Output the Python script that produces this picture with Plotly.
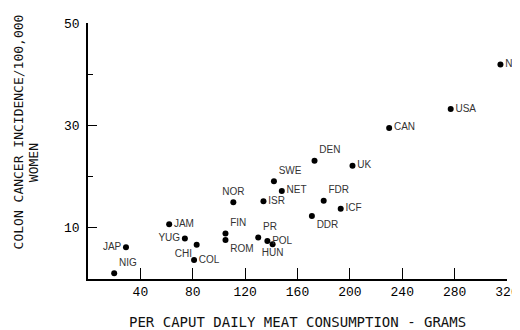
import plotly.graph_objects as go

countries = ["NZ", "USA", "CAN", "DEN", "UK", "SWE", "NET", "NOR", "ISR", "FDR", "ICF",
             "DDR", "FIN", "ROM", "PR", "POL", "HUN", "JAM", "YUG", "CHI", "COL", "JAP", "NIG"]
meat_grams = [315, 277, 230, 173, 202, 142, 148, 111, 134, 180, 193,
              171, 105, 105, 130, 137, 141, 62, 74, 83, 81, 29, 20]
incidence = [41.9, 33.2, 29.5, 23.1, 22.1, 19.1, 17.2, 15.0, 15.2, 15.3, 13.7,
             12.3, 8.9, 7.6, 8.1, 7.4, 6.8, 10.7, 7.9, 6.7, 3.7, 6.2, 1.1]

x_ticks = [40, 80, 120, 160, 200, 240, 280, 320]
y_ticks = [10, 30, 50]
y_minor = [20, 40]

label_pos = ["middle right", "middle right", "middle right", "top right", "middle right",
             "top right", "middle right", "top center", "middle right", "top right",
             "middle right", "bottom right", "top right", "bottom right", "top right",
             "middle right", "bottom center", "middle right", "middle left", "bottom left",
             "middle right", "middle left", "top right"]

fig = go.Figure()
fig.add_trace(go.Scatter(
    x=meat_grams, y=incidence, text=countries, mode="markers+text",
    textposition=label_pos,
    marker=dict(color="black", size=6),
    textfont=dict(family="Liberation Sans", size=10, color="#333333"),
    cliponaxis=False, showlegend=False,
))

tickfont = dict(family="Liberation Mono", size=13, color="black")
title_font = dict(family="DejaVu Sans Mono", size=13, color="#111111")
fig.update_layout(
    width=512, height=322,
    margin=dict(l=80, r=13, t=15, b=51, autoexpand=False),
    plot_bgcolor="white", paper_bgcolor="white",
    xaxis=dict(range=[0, 320], tickvals=x_ticks, ticks="inside", ticklen=11,
               tickcolor="black", tickwidth=1, showline=True, linecolor="black",
               linewidth=1.5, showgrid=False, zeroline=False, tickfont=tickfont,
               automargin=False),
    yaxis=dict(range=[0, 50], tickvals=y_ticks, ticks="inside", ticklen=9,
               tickcolor="black", tickwidth=1, showline=True, linecolor="black",
               linewidth=1.5, showgrid=False, zeroline=False, tickfont=tickfont,
               ticklabelstandoff=4, automargin=False,
               minor=dict(tickvals=y_minor, ticks="inside", ticklen=5,
                          tickcolor="black", showgrid=False)),
    annotations=[
        dict(text="PER CAPUT DAILY MEAT CONSUMPTION - GRAMS", xref="paper", yref="paper",
             x=0.5, y=-0.168, xanchor="center", yanchor="middle", showarrow=False,
             font=dict(family="DejaVu Sans Mono", size=14, color="#111111")),
        dict(text="COLON CANCER INCIDENCE/100,000", xref="paper", yref="paper",
             x=-0.165, y=0.576, xanchor="center", yanchor="middle", showarrow=False,
             textangle=-90, font=title_font),
        dict(text="WOMEN", xref="paper", yref="paper",
             x=-0.131, y=0.453, xanchor="center", yanchor="middle", showarrow=False,
             textangle=-90, font=title_font),
    ],
)

fig.write_html("out.html")
